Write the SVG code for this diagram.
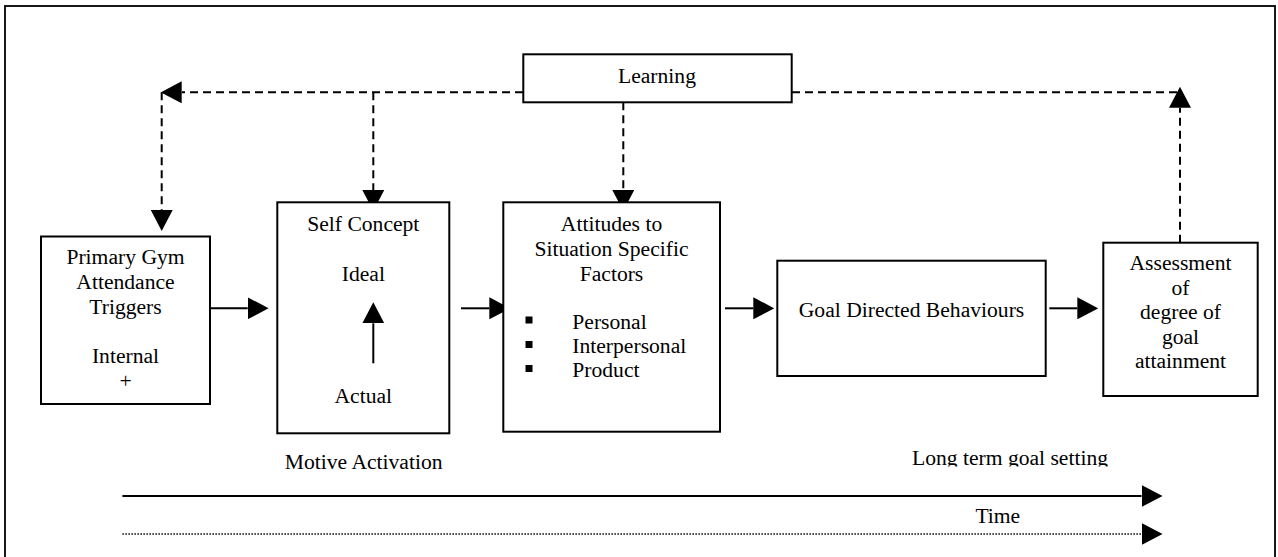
<svg xmlns="http://www.w3.org/2000/svg" width="1278" height="557" viewBox="0 0 1278 557">
<style>
  .box { fill: #fff; stroke: #000; stroke-width: 2; }
  .t { font-family: "Liberation Serif", "Times New Roman", serif; font-size: 21.6px; fill: #000; }
  .c { text-anchor: middle; }
  .solid { fill: none; stroke: #000; stroke-width: 2; }
  .dash { fill: none; stroke: #000; stroke-width: 2; stroke-dasharray: 8 5; }
  .dot { fill: none; stroke: #000; stroke-width: 1.5; stroke-dasharray: 1.5 1.5; }
</style>
<defs>
  <marker id="ah" markerUnits="userSpaceOnUse" markerWidth="21" markerHeight="22" refX="0" refY="10.5" orient="auto" viewBox="0 0 20 21">
    <path d="M0,0 L20,10.5 L0,21 Z" fill="#000"/>
  </marker>
  <clipPath id="clipLong"><rect x="880" y="430" width="260" height="36.5"/></clipPath>
</defs>
<rect x="5" y="6" width="1270" height="620" fill="#fff" stroke="#000" stroke-width="1.8"/>

<g id="connectors">
  <path class="dash" d="M523,92.3 H181.7" marker-end="url(#ah)"/>
  <path class="dash" d="M161.7,92.3 V210" marker-end="url(#ah)"/>
  <path class="dash" d="M373.3,92.3 V190" marker-end="url(#ah)"/>
  <path class="dash" d="M623.3,102.3 V190" marker-end="url(#ah)"/>
  <path class="dash" d="M792,92.3 H1180"/>
  <path class="dash" d="M1180,242.7 V107.7" marker-end="url(#ah)"/>
  <path class="solid" d="M201,308.3 H247.7" marker-end="url(#ah)"/>
  <path class="solid" d="M461,308.3 H489.3" marker-end="url(#ah)"/>
  <path class="solid" d="M725,308.3 H753.3" marker-end="url(#ah)"/>
  <path class="solid" d="M1049.3,308.3 H1077.3" marker-end="url(#ah)"/>
</g>

<g id="learning">
  <rect class="box" x="523.3" y="54.3" width="268.4" height="48"/>
  <text class="t c" x="657" y="82.8">Learning</text>
</g>

<g id="primary">
  <rect class="box" x="41" y="236.5" width="169" height="167.5"/>
  <text class="t c" x="125.5" y="263.5">Primary Gym</text>
  <text class="t c" x="125.5" y="288.5">Attendance</text>
  <text class="t c" x="125.5" y="313.5">Triggers</text>
  <text class="t c" x="125.5" y="362.5">Internal</text>
  <text class="t c" x="125.5" y="387.5">+</text>
</g>

<g id="selfconcept">
  <rect class="box" x="277.3" y="202.3" width="172" height="231"/>
  <text class="t c" x="363.3" y="231">Self Concept</text>
  <text class="t c" x="363.3" y="281">Ideal</text>
  <path class="solid" d="M373.3,363.3 V323.3" marker-end="url(#ah)"/>
  <text class="t c" x="363.3" y="402.6">Actual</text>
</g>

<g id="attitudes">
  <rect class="box" x="503.3" y="202.3" width="216.7" height="229.4"/>
  <text class="t c" x="611.5" y="231">Attitudes to</text>
  <text class="t c" x="611.5" y="256">Situation Specific</text>
  <text class="t c" x="611.5" y="281">Factors</text>
  <rect x="525.5" y="316.5" width="7" height="7" fill="#000"/>
  <rect x="525.5" y="341" width="7" height="7" fill="#000"/>
  <rect x="525.5" y="365" width="7" height="7" fill="#000"/>
  <text class="t" x="572.3" y="328.6">Personal</text>
  <text class="t" x="572.3" y="352.9">Interpersonal</text>
  <text class="t" x="572.3" y="377.2">Product</text>
</g>

<g id="goal">
  <rect class="box" x="777.3" y="260.7" width="268.4" height="115.3"/>
  <text class="t c" x="911.5" y="316.6">Goal Directed Behaviours</text>
</g>

<g id="assessment">
  <rect class="box" x="1103.3" y="242.7" width="154.4" height="153.3"/>
  <text class="t c" x="1180.5" y="270.3">Assessment</text>
  <text class="t c" x="1180.5" y="294.8">of</text>
  <text class="t c" x="1180.5" y="319.3">degree of</text>
  <text class="t c" x="1180.5" y="343.8">goal</text>
  <text class="t c" x="1180.5" y="368.3">attainment</text>
</g>

<g id="timeline">
  <text class="t c" x="363.7" y="469.3">Motive Activation</text>
  <text class="t c" x="1010" y="465" clip-path="url(#clipLong)">Long term goal setting</text>
  <path class="solid" d="M122.4,496 H1141.6" marker-end="url(#ah)"/>
  <text class="t c" x="997.8" y="522.7">Time</text>
  <path class="dot" d="M122.4,534 H1141.6" marker-end="url(#ah)"/>
</g>
</svg>
